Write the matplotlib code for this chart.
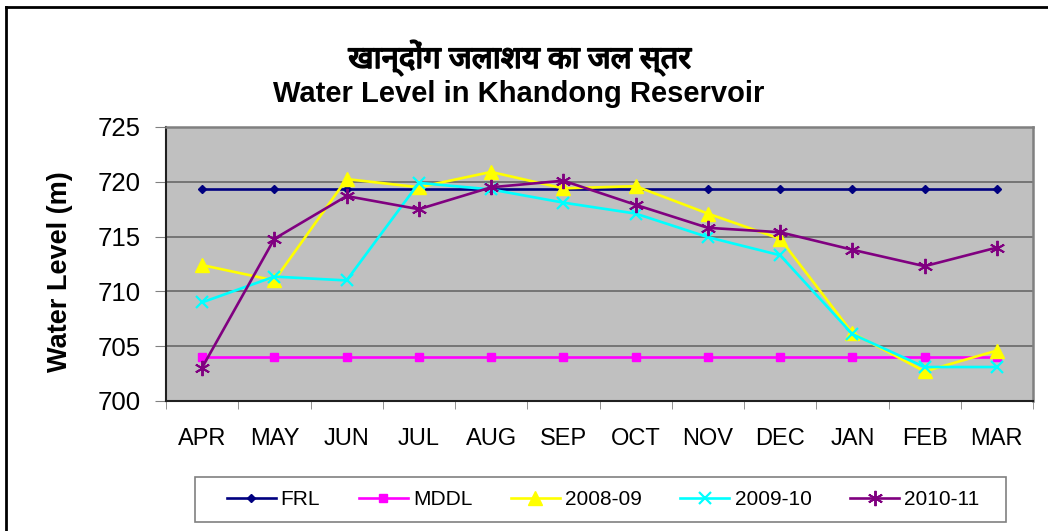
import matplotlib
matplotlib.use("Agg")
import matplotlib.pyplot as plt
from matplotlib import font_manager, patheffects
from matplotlib.ft2font import FT2Font
from matplotlib.lines import Line2D
from matplotlib.patches import Rectangle

months = ["APR", "MAY", "JUN", "JUL", "AUG", "SEP", "OCT", "NOV", "DEC", "JAN", "FEB", "MAR"]
frl = [719.3] * 12
mddl = [704.0] * 12
y2008 = [712.4, 711.0, 720.25, 719.5, 720.9, 719.4, 719.6, 717.1, 714.8, 706.2, 702.7, 704.6]
y2009 = [709.0, 711.35, 711.0, 719.9, 719.3, 718.1, 717.1, 714.95, 713.3, 706.1, 703.1, 703.1]
y2010 = [703.05, 714.8, 718.7, 717.5, 719.5, 720.1, 717.9, 715.8, 715.4, 713.8, 712.3, 714.0]
yticks = [700, 705, 710, 715, 720, 725]
title_hi = "खान्दोंग जलाशय का जल स्तर"
title_en = "Water Level in Khandong Reservoir"
ylabel = "Water Level (m)"

# find a font with Devanagari glyphs
deva = {}
for f in font_manager.fontManager.ttflist:
    try:
        ft = FT2Font(f.fname)
        if ft.get_char_index(ord("ख")) and ft.get_char_index(ord("स")):
            deva.setdefault(f.name, set()).add(f.weight)
    except Exception:
        pass
preferred = ["Noto Sans Devanagari", "Hind", "Mukta", "Lohit Devanagari", "FreeSans"]
hi_font = None
for p in preferred:
    if p in deva:
        hi_font = p
        break
if hi_font is None and deva:
    hi_font = sorted(deva)[0]
hi_has_bold = False
if hi_font:
    for w in deva[hi_font]:
        try:
            if int(w) >= 600:
                hi_has_bold = True
        except (TypeError, ValueError):
            if str(w).lower() in ("bold", "semibold", "demibold", "heavy", "black"):
                hi_has_bold = True

W, H = 1048, 531
fig = plt.figure(figsize=(W / 100, H / 100), dpi=100)
fig.patch.set_facecolor("white")

def fx(px):
    return px / W

def fy(py):
    return 1 - py / H

ax = fig.add_axes([fx(166), fy(401), fx(1033) - fx(166), fy(127) - fy(401)])
ax.set_facecolor("#c0c0c0")
x = list(range(len(months)))

lw = 1.9
ax.plot(x, frl, color="#000080", marker="D", markersize=4, lw=lw, label="FRL")
ax.plot(x, mddl, color="#ff00ff", marker="s", markersize=5.5, lw=lw, label="MDDL")
ax.plot(x, y2008, color="#ffff00", marker="^", markersize=10.5, lw=lw, label="2008-09")
ax.plot(x, y2009, color="#00ffff", marker="x", markersize=9, mew=1.6, lw=lw, label="2009-10")
ax.plot(x, y2010, color="#800080", marker=(6, 2, 0), markersize=11, mew=1.4, lw=lw, label="2010-11")

ax.set_xlim(-0.5, 11.5)
ax.set_ylim(700, 725)
ax.set_yticks(yticks)
ax.yaxis.grid(True, color="#606060", lw=1.1)
ax.set_axisbelow(True)
ax.set_xticks(x)
ax.set_xticklabels(months, fontsize=17, fontfamily="Liberation Sans")
ax.set_xticks([i - 0.5 for i in range(13)], minor=True)
ax.tick_params(axis="x", which="major", length=0, pad=19.5)
ax.tick_params(axis="x", which="minor", length=6, color="#808080", direction="out")
ax.tick_params(axis="y", length=8, color="#808080", direction="out", pad=10.5)
for lab in ax.get_yticklabels():
    lab.set_fontsize(18.5)
    lab.set_fontfamily("Liberation Sans")
for s in ["top", "right"]:
    ax.spines[s].set_color("#808080")
    ax.spines[s].set_linewidth(1.8)
for s in ["left", "bottom"]:
    ax.spines[s].set_color("#202020")
    ax.spines[s].set_linewidth(1.5)

fig.text(fx(60), fy(272), ylabel, rotation=90, ha="center", va="center",
         fontsize=19.5, fontweight="bold", fontfamily="Liberation Sans")

hi_family = [hi_font] if hi_font else []
t_hi = fig.text(fx(520), fy(68), title_hi, ha="center", va="baseline", fontsize=22.3,
                fontweight="bold" if hi_has_bold else "normal",
                family=hi_family + ["DejaVu Sans"])
if not hi_has_bold:
    t_hi.set_path_effects([patheffects.withStroke(linewidth=1.2, foreground="black")])
fig.text(fx(519), fy(102), title_en, ha="center", va="baseline", fontsize=21,
         fontweight="bold", fontfamily="Liberation Sans")

leg = fig.legend(loc="center", bbox_to_anchor=(fx(603), fy(499.5)),
                 ncol=5, frameon=False,
                 prop={"family": "Liberation Sans", "size": 15}, handlelength=2.35,
                 columnspacing=1.85, handletextpad=0.25, borderpad=0.5)
fig.add_artist(Rectangle((fx(195), fy(522)), fx(1006) - fx(195), fy(477) - fy(522),
                         transform=fig.transFigure, fill=False, edgecolor="#808080", lw=1.2))

fig.add_artist(Line2D([fx(6), fx(6)], [0, fy(7)], color="black", lw=2, transform=fig.transFigure))
fig.add_artist(Line2D([fx(6), 1], [fy(7), fy(7)], color="black", lw=2, transform=fig.transFigure))

fig.savefig("out.png", dpi=100)
